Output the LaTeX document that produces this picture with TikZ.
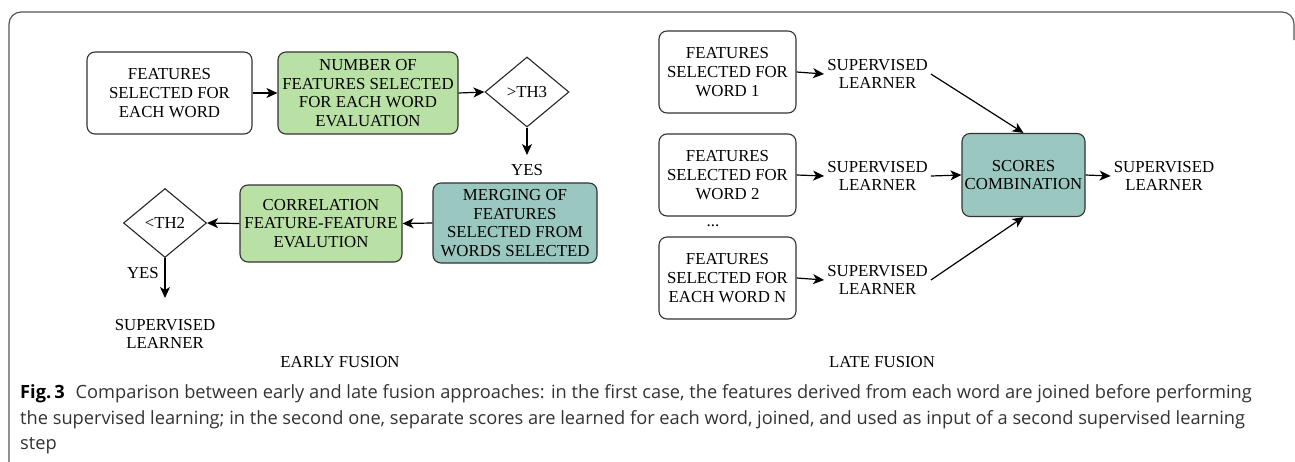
\documentclass[tikz,border=0pt]{standalone}
\usepackage{fontspec}
\setmainfont{Liberation Serif}
\newfontfamily\capfont{Open Sans}
\usetikzlibrary{shapes.geometric,arrows.meta}
\definecolor{boxgreen}{HTML}{B9E0A5}
\definecolor{boxteal}{HTML}{9AC7BF}
\definecolor{frameline}{HTML}{555555}
\definecolor{captext}{HTML}{333333}
\tikzset{
  base/.style={draw=black!80, line width=1.1pt, rounded corners=8pt, align=center, inner sep=0pt},
  whitebox/.style={base, fill=white},
  greenbox/.style={base, fill=boxgreen},
  tealbox/.style={base, fill=boxteal},
  dec/.style={draw=black!85, line width=1.1pt, diamond, inner sep=0pt, fill=white},
  conn/.style={draw=black, line width=1.2pt, -{Stealth[length=11pt,width=10pt,inset=3pt]}},
  lbl/.style={align=center, inner sep=3pt},
  capline/.style={anchor=base west, inner sep=0pt, text=captext, font=\capfont\fontsize{18.25}{20}\selectfont},
}
\begin{document}
\begin{tikzpicture}[x=1pt,y=-1pt,font=\fontsize{16.8}{18.8}\selectfont]
\useasboundingbox (0,0) rectangle (1295,461);
% frame
\draw[frameline, line width=1.2pt, rounded corners=12pt] (9,470) -- (9,12) -- (1294,12) -- (1294,40);
% early fusion
\node[whitebox, minimum width=165pt, minimum height=82pt] (f1) at (169.5,93) {FEATURES\\SELECTED FOR\\EACH WORD};
\node[greenbox, minimum width=180pt, minimum height=82pt] (nb) at (368,93) {NUMBER OF\\FEATURES SELECTED\\FOR EACH WORD\\EVALUATION};
\node[dec, minimum width=84pt, minimum height=70pt] (th3) at (527,92) {>TH3};
\coordinate (y1top) at (527,155);
\node[lbl] (yes1) at (527,170) {YES};
\node[tealbox, minimum width=164pt, minimum height=80pt] (mg) at (515,223) {MERGING OF\\FEATURES\\SELECTED FROM\\WORDS SELECTED};
\node[greenbox, minimum width=162pt, minimum height=77pt] (cr) at (321,223.5) {CORRELATION\\FEATURE-FEATURE\\EVALUTION};
\node[dec, minimum width=83pt, minimum height=69pt] (th2) at (165,223) {<TH2};
\coordinate (th2end) at (165,298);
\node[lbl, anchor=east, inner sep=0pt] (yes2) at (159,273) {YES};
\node[lbl] (sl0) at (165,334) {SUPERVISED\\LEARNER};
\node[lbl] (ef) at (340,362) {EARLY FUSION};
\draw[conn] (f1.east) -- (nb.west);
\draw[conn] (nb.east) -- (th3.west);
\draw[conn] (th3.south) -- (y1top);
\draw[conn] (mg.west) -- (cr.east);
\draw[conn] (cr.west) -- (th2.east);
\draw[conn] (th2.south) -- (th2end);
% late fusion
\node[whitebox, minimum width=137pt, minimum height=82pt] (r1) at (727.5,72) {FEATURES\\SELECTED FOR\\WORD 1};
\node[whitebox, minimum width=137pt, minimum height=82pt] (r2) at (727.5,175) {FEATURES\\SELECTED FOR\\WORD 2};
\node[lbl] (dots) at (713,226) {...};
\node[whitebox, minimum width=137pt, minimum height=82pt] (r3) at (727.5,278) {FEATURES\\SELECTED FOR\\EACH WORD N};
\node[lbl] (s1) at (877.5,74) {SUPERVISED\\LEARNER};
\node[lbl] (s2) at (877.5,176) {SUPERVISED\\LEARNER};
\node[lbl] (s3) at (877.5,280) {SUPERVISED\\LEARNER};
\node[tealbox, minimum width=123pt, minimum height=83pt] (sc) at (1023.5,175) {SCORES\\COMBINATION};
\node[lbl] (so) at (1164,176) {SUPERVISED\\LEARNER};
\node[lbl] (lf) at (882,362) {LATE FUSION};
\draw[conn] (r1.east) -- (s1.west);
\draw[conn] (r2.east) -- (s2.west);
\draw[conn] (r3.east) -- (s3.west);
\draw[conn] (s1.east) -- (sc.north);
\draw[conn] (s2.east) -- (sc.west);
\draw[conn] (s3.east) -- (sc.south);
\draw[conn] (sc.east) -- (so.west);
% caption
\node[capline] (c1) at (20,398) {{\color{black}\bfseries Fig.\,3}\hspace{0.6em}Comparison between early and late fusion approaches: in the first case, the features derived from each word are joined before performing};
\node[capline] (c2) at (20,424) {the supervised learning; in the second one, separate scores are learned for each word, joined, and used as input of a second supervised learning};
\node[capline] (c3) at (20,449) {step};
\end{tikzpicture}
\end{document}
